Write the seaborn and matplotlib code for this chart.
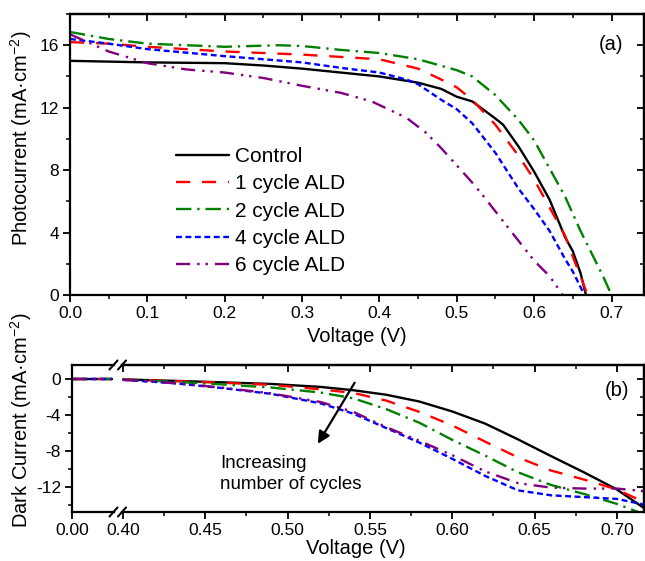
import numpy as np
import pandas as pd
import matplotlib
matplotlib.use("Agg")
import matplotlib.pyplot as plt
import seaborn as sns
from matplotlib.ticker import MultipleLocator, FixedLocator, FormatStrFormatter
from matplotlib.lines import Line2D

# ---------------- data ----------------
labels = ["Control", "1 cycle ALD", "2 cycle ALD", "4 cycle ALD", "6 cycle ALD"]

# (a) photocurrent
v_ctrl = [0, 0.1, 0.2, 0.25, 0.3, 0.36, 0.4, 0.45, 0.48, 0.5, 0.52, 0.55, 0.56, 0.58, 0.6, 0.62, 0.64, 0.65, 0.66, 0.667]
j_ctrl = [15.0, 14.9, 14.85, 14.7, 14.5, 14.2, 14.0, 13.6, 13.2, 12.7, 12.4, 11.3, 10.9, 9.5, 7.9, 6.1, 3.7, 2.8, 1.4, 0]
v_c1 = [0, 0.05, 0.1, 0.2, 0.3, 0.4, 0.45, 0.48, 0.5, 0.52, 0.55, 0.58, 0.6, 0.62, 0.64, 0.65, 0.66, 0.669]
j_c1 = [16.2, 16.1, 15.9, 15.6, 15.4, 15.1, 14.5, 13.8, 13.3, 12.5, 10.9, 8.9, 7.4, 5.6, 3.8, 2.45, 1.2, 0]
v_c2 = [0, 0.05, 0.1, 0.2, 0.27, 0.3, 0.35, 0.4, 0.45, 0.5, 0.52, 0.55, 0.58, 0.6, 0.62, 0.64, 0.66, 0.68, 0.69, 0.70]
j_c2 = [16.85, 16.4, 16.1, 15.9, 16.0, 15.95, 15.7, 15.5, 15.1, 14.4, 14.0, 12.8, 11.2, 9.9, 8.1, 6.3, 4.1, 2.1, 1.1, 0]
v_c4 = [0, 0.05, 0.1, 0.2, 0.3, 0.35, 0.4, 0.435, 0.45, 0.48, 0.5, 0.52, 0.55, 0.58, 0.6, 0.62, 0.64, 0.65, 0.665]
j_c4 = [16.4, 16.1, 15.75, 15.3, 14.9, 14.55, 14.25, 13.8, 13.5, 12.5, 11.9, 11.0, 9.1, 6.8, 5.5, 4.1, 2.3, 1.5, 0]
v_c6 = [0, 0.05, 0.1, 0.15, 0.2, 0.25, 0.3, 0.35, 0.39, 0.435, 0.46, 0.48, 0.5, 0.52, 0.535, 0.565, 0.6, 0.62, 0.637]
j_c6 = [16.7, 15.6, 14.85, 14.45, 14.25, 13.9, 13.4, 12.95, 12.4, 11.35, 10.4, 9.4, 8.3, 7.2, 6.3, 4.4, 2.2, 1.2, 0]

# (b) dark current (broken axis: short segment near 0 V and 0.40-0.72 V)
v_dark_low = [0.0, 0.095]
j_dark_low = [-0.05, -0.05]
v_dark = [0.40, 0.43, 0.46, 0.49, 0.52, 0.54, 0.56, 0.58, 0.60, 0.62, 0.64, 0.66, 0.68, 0.70, 0.72]
d_ctrl = [-0.1, -0.25, -0.42, -0.6, -0.93, -1.3, -1.8, -2.55, -3.65, -5.0, -6.75, -8.6, -10.4, -12.3, -14.8]
d_c1 = [-0.1, -0.27, -0.47, -0.7, -1.2, -1.6, -2.45, -3.7, -5.2, -7.0, -8.75, -10.2, -11.2, -12.3, -14.0]
d_c2 = [-0.12, -0.35, -0.65, -1.0, -1.55, -2.2, -3.4, -4.9, -6.8, -8.55, -10.4, -11.8, -12.8, -13.9, -15.3]
d_c4 = [-0.15, -0.5, -1.05, -1.7, -2.75, -3.9, -5.5, -7.1, -8.9, -10.8, -12.4, -12.95, -13.15, -13.35, -14.1]
d_c6 = [-0.15, -0.5, -1.0, -1.65, -2.6, -3.7, -5.4, -6.9, -8.5, -10.3, -11.6, -12.1, -12.2, -12.2, -12.55]

top_xticks = [0.0, 0.1, 0.2, 0.3, 0.4, 0.5, 0.6, 0.7]
top_yticks = [0, 4, 8, 12, 16]
bot_xticks = [0.40, 0.45, 0.50, 0.55, 0.60, 0.65, 0.70]
bot_yticks = [0, -4, -8, -12]

# ---------------- style ----------------
sns.set_theme(style="ticks")
plt.rcParams['font.family'] = ['Liberation Sans', 'DejaVu Sans']
plt.rcParams['axes.unicode_minus'] = False
plt.rcParams['mathtext.fontset'] = 'custom'
plt.rcParams['mathtext.rm'] = 'Liberation Sans'
plt.rcParams['mathtext.default'] = 'regular'
for key in ('axes.edgecolor', 'xtick.color', 'ytick.color', 'text.color', 'axes.labelcolor'):
    plt.rcParams[key] = 'black'

colors = ["black", "#FF0000", "#008000", "#0000FF", "#800080"]
dash_styles = [None, (6, 5), (6.5, 2.5, 1, 2.5), (2.5, 1.5), (6, 3, 1, 2.5, 1, 3)]
LW = 1.7
SPW = 1.6
TICK_FS = 12.5
LAB_FS = 14.5

W, H = 645, 561
fig = plt.figure(figsize=(W / 100, H / 100), dpi=100)

def rect(l, t, r, b):
    return [l / W, 1 - b / H, (r - l) / W, (b - t) / H]

ax_a = fig.add_axes(rect(70, 14, 644, 295))
ax_bl = fig.add_axes(rect(72, 365, 114, 512))
ax_b = fig.add_axes(rect(122, 365, 644, 512))

def draw(ax, x, y, i, lab=None):
    sns.lineplot(x=x, y=y, ax=ax, color=colors[i], lw=LW, sort=False,
                 estimator=None, label=lab, legend=False)
    ln = ax.lines[-1]
    if dash_styles[i] is not None:
        ln.set_dashes(dash_styles[i])
    ln.set_clip_on(True)
    return ln

# ---- panel (a)
top_sets = [(v_ctrl, j_ctrl), (v_c1, j_c1), (v_c2, j_c2), (v_c4, j_c4), (v_c6, j_c6)]
handles = []
for i, (x, y) in enumerate(top_sets):
    handles.append(draw(ax_a, x, y, i, labels[i]))

ax_a.set_xlim(0, 0.742)
ax_a.set_ylim(0, 18)
ax_a.xaxis.set_major_locator(FixedLocator(top_xticks))
ax_a.xaxis.set_minor_locator(MultipleLocator(0.05))
ax_a.yaxis.set_major_locator(FixedLocator(top_yticks))
ax_a.yaxis.set_minor_locator(MultipleLocator(2))
ax_a.xaxis.set_major_formatter(FormatStrFormatter('%.1f'))
ax_a.set_xlabel("")
ax_a.set_ylabel("")

leg = ax_a.legend(handles, labels, loc='upper left',
                  bbox_to_anchor=(176 / W, 1 - 147 / H), bbox_transform=fig.transFigure,
                  frameon=False, fontsize=15, handlelength=2.55, handletextpad=0.28,
                  labelspacing=0.4, borderpad=0, borderaxespad=0)

ax_a.text(611 / W, 1 - 44 / H, "(a)", transform=fig.transFigure, ha='center', va='center', fontsize=14.5)

# ---- panel (b)
bot_sets = [d_ctrl, d_c1, d_c2, d_c4, d_c6]
for i, d in enumerate(bot_sets):
    draw(ax_bl, v_dark_low, j_dark_low, i)
    draw(ax_b, v_dark, d, i)

for ax in (ax_bl, ax_b):
    ax.set_ylim(-14.8, 1.5)
    ax.yaxis.set_major_locator(FixedLocator(bot_yticks))
    ax.yaxis.set_minor_locator(MultipleLocator(2))
    ax.set_xlabel("")
    ax.set_ylabel("")

ax_bl.set_xlim(0, 0.1)
ax_bl.xaxis.set_major_locator(FixedLocator([0.0]))
ax_bl.xaxis.set_major_formatter(FormatStrFormatter('%.2f'))
ax_bl.spines['right'].set_visible(False)

ax_b.set_xlim(0.3994, 0.7165)
ax_b.xaxis.set_major_locator(FixedLocator(bot_xticks))
ax_b.xaxis.set_minor_locator(MultipleLocator(0.025))
ax_b.xaxis.set_major_formatter(FormatStrFormatter('%.2f'))
ax_b.spines['left'].set_visible(False)
ax_b.tick_params(axis='y', which='both', left=False, labelleft=False)

ax_b.annotate("", xy=(0.5175, -7.5), xytext=(0.5416, -0.2),
              arrowprops=dict(arrowstyle='-|>', color='black', lw=1.6, mutation_scale=18))
ax_b.text(0.4589, -10.56, "Increasing\nnumber of cycles", ha='left', va='center',
          fontsize=13.5, linespacing=1.3)
ax_b.text(617 / W, 1 - 391 / H, "(b)", transform=fig.transFigure, ha='center', va='center', fontsize=14.5)

# ---- ticks & spines
for ax in (ax_a, ax_bl, ax_b):
    for s in ax.spines.values():
        s.set_linewidth(SPW)
    ax.tick_params(which='major', direction='out', length=5, width=1.3, labelsize=TICK_FS, pad=3)
    ax.tick_params(which='minor', direction='out', length=3, width=1.1)

def mirror(ax, minor_x, minor_y, do_x=True, do_y=True):
    if do_x:
        sx = ax.secondary_xaxis('top')
        sx.xaxis.set_major_locator(FixedLocator(list(ax.xaxis.get_majorticklocs())))
        sx.xaxis.set_minor_locator(MultipleLocator(minor_x))
        sx.tick_params(which='major', direction='in', length=5, width=1.3, labeltop=False)
        sx.tick_params(which='minor', direction='in', length=3, width=1.1)
        sx.spines['top'].set_linewidth(SPW)
    if do_y:
        sy = ax.secondary_yaxis('right')
        sy.yaxis.set_major_locator(FixedLocator(list(ax.yaxis.get_majorticklocs())))
        sy.yaxis.set_minor_locator(MultipleLocator(minor_y))
        sy.tick_params(which='major', direction='in', length=5, width=1.3, labelright=False)
        sy.tick_params(which='minor', direction='in', length=3, width=1.1)
        sy.spines['right'].set_linewidth(SPW)

mirror(ax_a, 0.05, 2)
mirror(ax_b, 0.025, 2)

# break marks
for yb in (365, 512):
    for xc in (113.5, 122):
        fig.add_artist(Line2D([(xc - 4) / W, (xc + 4) / W], [1 - (yb + 4.5) / H, 1 - (yb - 4.5) / H],
                              transform=fig.transFigure, color='black', lw=1.5))

# axis labels
fig.text(357 / W, 1 - 337 / H, "Voltage (V)", ha='center', va='center', fontsize=LAB_FS)
fig.text(356 / W, 1 - 549 / H, "Voltage (V)", ha='center', va='center', fontsize=LAB_FS)
fig.text(21.5 / W, 1 - 138 / H, "Photocurrent (mA·cm$^{-2}$)", ha='center', va='center',
         rotation=90, fontsize=LAB_FS)
fig.text(21.5 / W, 1 - 420 / H, "Dark Current (mA·cm$^{-2}$)", ha='center', va='center',
         rotation=90, fontsize=LAB_FS)

fig.savefig("out.png", dpi=100)
